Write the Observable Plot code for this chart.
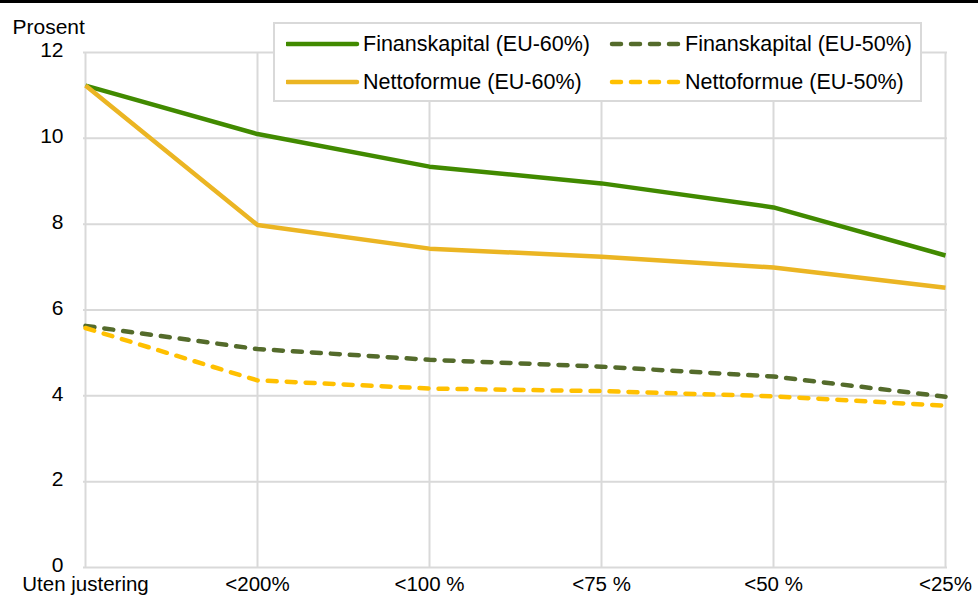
<!DOCTYPE html>
<html>
<head>
<meta charset="utf-8">
<script src="https://cdn.jsdelivr.net/npm/d3@7"></script>
<script src="https://cdn.jsdelivr.net/npm/@observablehq/plot@0.6"></script>
<style>
  html, body { margin: 0; padding: 0; background: #fff; }
  #wrap { position: relative; width: 978px; height: 595px; font-family: "Liberation Sans", Arial, sans-serif; }
  #topbar { position: absolute; left: 0; top: 0; width: 978px; height: 3px; background: #000; }
  #legend { position: absolute; left: 273px; top: 22px; width: 645px; height: 76px; border: 2px solid #d9d9d9; background: #fff; }
  .item { position: absolute; font-size: 21.5px; line-height: 24px; color: #000; white-space: nowrap; }
  .sample { position: absolute; }
</style>
</head>
<body>
<div id="wrap">
  <div id="chart"></div>
  <div id="topbar"></div>
  <div id="legend"></div>
</div>
<script>
const categories = ["Uten justering", "<200%", "<100 %", "<75 %", "<50 %", "<25%"];
const seriesNames = ["Finanskapital (EU-60%)", "Finanskapital (EU-50%)", "Nettoformue (EU-60%)", "Nettoformue (EU-50%)"];
const finans60 = [11.23, 10.1, 9.34, 8.95, 8.39, 7.27];
const finans50 = [5.63, 5.09, 4.84, 4.68, 4.45, 3.98];
const netto60  = [11.23, 7.98, 7.43, 7.24, 6.99, 6.52];
const netto50  = [5.58, 4.36, 4.17, 4.11, 3.99, 3.77];
const yTicks = [0, 2, 4, 6, 8, 10, 12];
const colors = ["#418a00", "#546b2b", "#ebb523", "#ffc000"];
const dashes = [null, "9,10", null, "9,10"];

const allValues = [finans60, finans50, netto60, netto50];
const rows = allValues.flatMap((vals, s) =>
  categories.map((c, i) => ({cat: c, value: vals[i], series: seriesNames[s]})));

const lineMarks = seriesNames.map((name, s) =>
  Plot.line(rows.filter(d => d.series === name), {
    x: "cat", y: "value",
    stroke: colors[s], strokeWidth: 4.5,
    strokeDasharray: dashes[s] || undefined,
    strokeLinecap: dashes[s] ? "round" : "butt",
    strokeLinejoin: "round"
  }));

const chart = Plot.plot({
  width: 978, height: 595,
  marginLeft: 83, marginRight: 31, marginTop: 52, marginBottom: 28,
  style: {fontFamily: "'Liberation Sans', Arial, sans-serif", fontSize: "21px", color: "#000", background: "#fff"},
  x: {type: "point", domain: categories, padding: 0},
  y: {domain: [0, 12]},
  marks: [
    Plot.gridY(yTicks, {stroke: "#d9d9d9", strokeOpacity: 1, strokeWidth: 2}),
    Plot.gridX(categories, {stroke: "#d9d9d9", strokeOpacity: 1, strokeWidth: 2}),
    Plot.axisY(yTicks, {tickSize: 0, tickPadding: 20, label: null, fontSize: 21, dy: -2}),
    Plot.axisX(categories, {tickSize: 0, tickPadding: 9, label: null, fontSize: 20.5}),
    ...lineMarks,
    Plot.text(["Prosent"], {text: d => d, frameAnchor: "top-left", dx: -71, dy: -19, textAnchor: "start", lineAnchor: "bottom", fontSize: 21})
  ]
});
document.getElementById("chart").appendChild(chart);

// Legend (HTML overlay inside plot area)
const legend = document.getElementById("legend");
const legendPos = [
  {x: 286, y: 44, tx: 363},   // Finanskapital 60
  {x: 608, y: 44, tx: 685},   // Finanskapital 50
  {x: 286, y: 82, tx: 363},   // Netto 60
  {x: 608, y: 82, tx: 685}    // Netto 50
];
const lx0 = 275, ly0 = 24;
seriesNames.forEach((name, s) => {
  const p = legendPos[s];
  const svgNS = "http://www.w3.org/2000/svg";
  const svg = document.createElementNS(svgNS, "svg");
  svg.setAttribute("width", 74); svg.setAttribute("height", 10);
  svg.setAttribute("class", "sample");
  svg.style.left = (p.x - lx0) + "px";
  svg.style.top = (p.y - ly0 - 5) + "px";
  const ln = document.createElementNS(svgNS, "line");
  ln.setAttribute("x1", dashes[s] ? 4 : 1); ln.setAttribute("x2", dashes[s] ? 70 : 71);
  ln.setAttribute("y1", 5); ln.setAttribute("y2", 5);
  ln.setAttribute("stroke", colors[s]); ln.setAttribute("stroke-width", 4.5);
  ln.setAttribute("stroke-linecap", "round");
  if (dashes[s]) ln.setAttribute("stroke-dasharray", dashes[s]);
  svg.appendChild(ln);
  legend.appendChild(svg);
  const t = document.createElement("div");
  t.className = "item";
  t.textContent = name;
  t.style.left = (p.tx - lx0) + "px";
  t.style.top = (p.y - ly0 - 12) + "px";
  legend.appendChild(t);
});
</script>
</body>
</html>
